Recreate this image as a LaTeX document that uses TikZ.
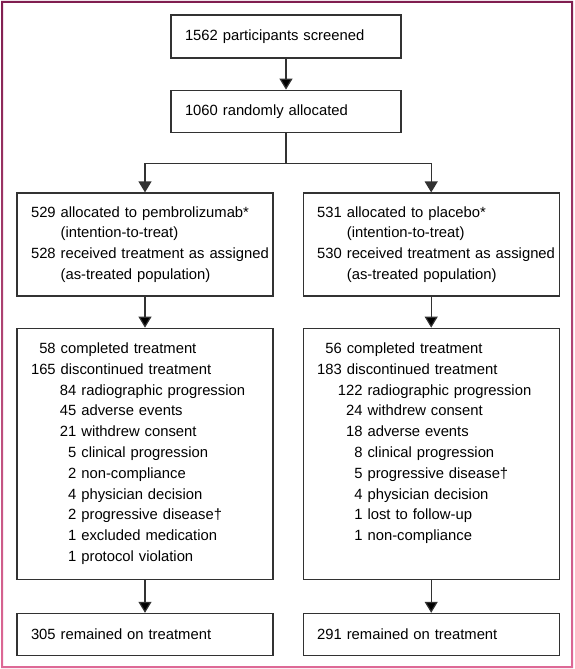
\documentclass[tikz,border=0pt]{standalone}
\usepackage{fontspec}
\setmainfont{Liberation Sans}
\usetikzlibrary{arrows.meta,positioning}

\definecolor{framedark}{RGB}{128,30,80}
\definecolor{framepink}{RGB}{222,105,150}
\definecolor{boxline}{RGB}{50,50,50}

% number right aligned, text after it
\newcommand{\lvlone}[2]{\mbox{\makebox[1.67em][r]{#1}\ #2}}
\newcommand{\lvltwo}[2]{\mbox{\hspace*{1.4em}\makebox[1.67em][r]{#1}\ #2}}
\newcommand{\contline}[1]{\mbox{\hspace*{1.67em}\ #1}}

\begin{document}
\begin{tikzpicture}[>={Triangle[width=13pt,length=11pt]},
    box/.style={draw=boxline,line width=1.2pt,align=left,inner xsep=14pt,
      font=\fontsize{14.8pt}{20.8pt}\selectfont},
    topbox/.style={box,text width=202pt,minimum height=43pt},
    armbox/.style={box,text width=228pt},
    link/.style={draw=boxline,line width=1.2pt}]
  \useasboundingbox (0,0) rectangle (574pt,-669pt);
  \shade[top color=framedark,bottom color=framepink,even odd rule]
    (1pt,-1pt) rectangle (573pt,-668pt) (3pt,-3pt) rectangle (571pt,-666pt);

  \node[topbox] (screened) at (286pt,-36.5pt) {1562 participants screened};
  \node[topbox,minimum height=42pt] (random) [below=31pt of screened] {1060 randomly allocated};

  \node[armbox,minimum height=103pt] (pembro) at (145pt,-244.5pt)
    {\lvlone{529}{allocated to pembrolizumab*}\\
     \contline{(intention-to-treat)}\\
     \lvlone{528}{received treatment as assigned}\\
     \contline{(as-treated population)}};
  \node[armbox,minimum height=103pt] (placebo) [right=29pt of pembro]
    {\lvlone{531}{allocated to placebo*}\\
     \contline{(intention-to-treat)}\\
     \lvlone{530}{received treatment as assigned}\\
     \contline{(as-treated population)}};

  \node[armbox,minimum height=251pt] (pembrotx) [below=31pt of pembro]
    {\lvlone{58}{completed treatment}\\
     \lvlone{165}{discontinued treatment}\\
     \lvltwo{84}{radiographic progression}\\
     \lvltwo{45}{adverse events}\\
     \lvltwo{21}{withdrew consent}\\
     \lvltwo{5}{clinical progression}\\
     \lvltwo{2}{non-compliance}\\
     \lvltwo{4}{physician decision}\\
     \lvltwo{2}{progressive disease†}\\
     \lvltwo{1}{excluded medication}\\
     \lvltwo{1}{protocol violation}};
  \node[armbox,minimum height=251pt] (placebotx) [below=31pt of placebo]
    {\lvlone{56}{completed treatment}\\
     \lvlone{183}{discontinued treatment}\\
     \lvltwo{122}{radiographic progression}\\
     \lvltwo{24}{withdrew consent}\\
     \lvltwo{18}{adverse events}\\
     \lvltwo{8}{clinical progression}\\
     \lvltwo{5}{progressive disease†}\\
     \lvltwo{4}{physician decision}\\
     \lvltwo{1}{lost to follow-up}\\
     \lvltwo{1}{non-compliance}\\
     \mbox{\vphantom{p}}};

  \node[armbox,minimum height=42pt] (pembrorem) [below=33pt of pembrotx] {305 remained on treatment};
  \node[armbox,minimum height=42pt] (placeborem) [below=33pt of placebotx] {291 remained on treatment};

  \path[link,->]
    (screened) edge (random)
    % arms
    (pembro) edge (pembrotx)
    (placebo) edge (placebotx)
    (pembrotx) edge (pembrorem)
    (placebotx) edge (placeborem);
  % split after randomisation
  \draw[link] (random.south) -- ++(0,-31pt) coordinate (split);
  \draw[link,->] (split) -| (pembro);
  \draw[link,->] (split) -| (placebo);
\end{tikzpicture}
\end{document}
